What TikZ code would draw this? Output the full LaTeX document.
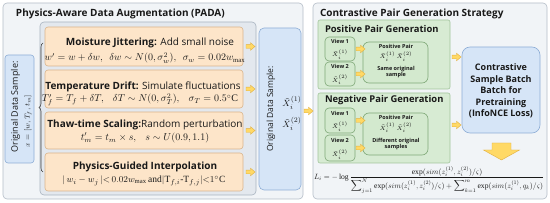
\documentclass[tikz,border=0pt]{standalone}
\usepackage{amsmath}
\usepackage{fontspec}
\setmainfont{Liberation Serif}
\setsansfont{Open Sans}
\usetikzlibrary{decorations.pathreplacing,calc}
\definecolor{pnlfill}{HTML}{F1F4F7}
\definecolor{pnldraw}{HTML}{B5BEC8}
\definecolor{inrfill}{HTML}{E3E8EE}
\definecolor{inrdraw}{HTML}{A9B4C0}
\definecolor{orgfill}{HTML}{FDE5C9}
\definecolor{orgdraw}{HTML}{D9B48C}
\definecolor{blufill}{HTML}{D6E5F7}
\definecolor{bludraw}{HTML}{8DADD5}
\definecolor{grnfill}{HTML}{D7EBD3}
\definecolor{grndraw}{HTML}{A2C69C}
\definecolor{gbxfill}{HTML}{D3E9CE}
\definecolor{gbxdraw}{HTML}{7FA878}
\definecolor{arrfill}{HTML}{FFD966}
\definecolor{arrdraw}{HTML}{E2B040}
\tikzset{
  every node/.style={inner sep=0pt, outer sep=0pt},
  sz/.style 2 args={minimum width=#1pt, minimum height=#2pt},
  panel/.style={draw=pnldraw, fill=pnlfill, rounded corners=4pt, line width=0.6pt},
  innerp/.style={draw=inrdraw, fill=inrfill, rounded corners=4pt, line width=0.6pt},
  obox/.style={draw=orgdraw, fill=orgfill, rounded corners=3pt, line width=0.6pt},
  bluebox/.style={draw=bludraw, fill=blufill, rounded corners=3pt, line width=0.6pt},
  gpanel/.style={draw=grndraw, fill=grnfill, rounded corners=2pt, line width=0.6pt},
  gbox/.style={draw=gbxdraw, fill=gbxfill, rounded corners=4pt, line width=0.6pt},
  titletxt/.style={font=\sffamily\bfseries\fontsize{10}{11}\selectfont, text=black!90},
  gtitletxt/.style={font=\sffamily\bfseries\fontsize{9.4}{10}\selectfont, text=black!90},
  txt/.style={font=\sffamily\fontsize{10}{11}\selectfont, text=black!90},
  mth/.style={font=\fontsize{10}{11}\selectfont, text=black!90},
  smallb/.style={font=\sffamily\bfseries\fontsize{5.5}{6.5}\selectfont, text=black!90, align=center},
  smallm/.style={font=\fontsize{6.5}{7}\selectfont, text=black!90},
  rottxt/.style={font=\sffamily\fontsize{9}{10}\selectfont, text=black!90, rotate=90},
  yarr/.style={draw=arrdraw, fill=arrfill, line width=0.4pt, line join=miter},
  bracestyle/.style={decorate, decoration={brace, amplitude=4pt}, draw=black!75, line width=0.6pt},
}
\newcommand\smallarrow[1]{\draw[yarr] #1 ++(0,-1.8) -- ++(4.5,0) -- ++(0,-2) -- ++(4.5,3.8) -- ++(-4.5,3.8) -- ++(0,-2) -- ++(-4.5,0) -- cycle;}
\begin{document}
\begin{tikzpicture}[x=1pt, y=-1pt]
\useasboundingbox[fill=white] (0,0) rectangle (550,203);
% left panel
\node[panel, sz={300}{196}] (padapanel) at (153,101) {};
\node[titletxt, anchor=west] (padatitle) at (16,14) {Physics-Aware Data Augmentation (PADA)};
% right panel
\node[panel, sz={234}{196}] (cpgpanel) at (430,101) {};
\node[titletxt, anchor=west] (cpgtitle) at (320,14) {Contrastive Pair Generation Strategy};
% inner augmentation panel
\node[innerp, sz={216}{173}] (augpanel) at (148,108.5) {};
% original sample sidebar
\node[bluebox, sz={29}{108}] (orig) at (19.5,109) {};
\node[rottxt] (origtxt) at (15.5,107) {Original Data Sample:};
\node[mth, rotate=90, font=\fontsize{7.5}{8}\selectfont] (origx) at (28,121) {$x=[w,T_f,t_m]$};
\coordinate (brtop) at (43,43);
\coordinate (brbot) at (43,172);
\draw[bracestyle] (brbot) -- (brtop);
% orange boxes
\node[obox, sz={198}{39}] (o1) at (144,46.5) {};
\node[txt] (o1a) at (150,43) {\textbf{Moisture Jittering:} Add small noise};
\node[mth, font=\fontsize{9.6}{10}\selectfont] (o1b) at (145,58) {$w'=w+\delta w,\ \ \delta w\sim N(0,\sigma_w^2),\ \ \sigma_w=0.02w_{\max}$};
\node[obox, sz={198}{38}] (o2) at (144,89) {};
\node[txt] (o2a) at (143,87) {\textbf{Temperature Drift:} Simulate fluctuations};
\node[mth] (o2b) at (140,100) {$T_f'=T_f+\delta T,\ \ \ \delta T\sim N(0,\sigma_T^2),\ \ \ \sigma_T=0.5^{\circ}\mathrm{C}$};
\node[obox, sz={198}{37}] (o3) at (144,130.5) {};
\node[txt] (o3a) at (145,125) {\textbf{Thaw-time Scaling:}Random perturbation};
\node[mth] (o3b) at (145,138) {$t_m'=t_m\times s,\ \ \ s\sim U(0.9,1.1)$};
\node[obox, sz={198}{38}] (o4) at (144,172) {};
\node[txt] (o4a) at (145,167) {\textbf{Physics-Guided Interpolation}};
\node[mth, font=\fontsize{9.5}{10}\selectfont] (o4b) at (144,181) {$|\,w_i-w_j\,|{<}\,0.02w_{\max}\,\mathrm{and}|\mathrm{T}_{f,i}\text{-}\mathrm{T}_{f,j}|{<}1^{\circ}\mathrm{C}$};
% center blue box
\node[bluebox, sz={42}{162}, rounded corners=5pt] (cb) at (280,109) {};
\node[rottxt, font=\sffamily\fontsize{8.5}{10}\selectfont] (cbtxt) at (271,109) {Original Data Sample:};
\node[mth, font=\fontsize{9.5}{10}\selectfont] (cbx1) at (292,103) {$\tilde{X}_i^{(1)}$};
\node[mth, font=\fontsize{9.5}{10}\selectfont] (cbx2) at (292,124) {$\tilde{X}_i^{(2)}$};
\smallarrow{($(o1.east)+(3,0)$)}
\smallarrow{($(o2.east)+(3,0)$)}
\smallarrow{($(o3.east)+(3,0)$)}
\smallarrow{($(o4.east)+(3,0)$)}
\smallarrow{($(cb.east)+(3,2)$)}
% positive pair generation
\node[gpanel, sz={132}{69}] (gpos) at (384,54.5) {};
\node[gtitletxt, anchor=west] (gpostitle) at (325,29) {Positive Pair Generation};
\node[gbox, sz={30}{24}] (pv1) at (340,49) {};
\node[smallb] (pv1a) at (340,41.5) {View 1};
\node[smallm] (pv1b) at (340,54.5) {$\tilde{X}_i^{(1)}$};
\node[gbox, sz={30}{24}] (pv2) at (340,74) {};
\node[smallb] (pv2a) at (340,66.5) {View 2};
\node[smallm] (pv2b) at (340,80) {$\tilde{X}_i^{(2)}$};
\node[gbox, sz={65}{41}, rounded corners=6pt] (pp) at (395.5,62.5) {};
\node[smallb] (ppa) at (396,46) {Positive Pair};
\node[smallm] (ppb) at (396,56.5) {$\tilde{X}_i^{(1)}\,\tilde{X}_i^{(2)}$};
\node[smallb] (ppc) at (396,72) {Same original\\sample};
\smallarrow{($(pv1.east)+(1,0)$)}
\smallarrow{($(pv2.east)+(1,0)$)}
% negative pair generation
\node[gpanel, sz={132}{70}] (gneg) at (384,128) {};
\node[gtitletxt, anchor=west] (gnegtitle) at (325,100) {Negative Pair Generation};
\node[gbox, sz={30}{25}] (nv1) at (340,120.5) {};
\node[smallb] (nv1a) at (340,113) {View 1};
\node[smallm] (nv1b) at (340,126.5) {$\tilde{X}_i^{(1)}$};
\node[gbox, sz={30}{26}] (nv2) at (340,148) {};
\node[smallb] (nv2a) at (340,140.5) {View 2};
\node[smallm] (nv2b) at (340,154.5) {$\tilde{X}_i^{(2)}$};
\node[gbox, sz={65}{42}, rounded corners=6pt] (np) at (395.5,134) {};
\node[smallb] (npa) at (396,117.5) {Positive Pair};
\node[smallm] (npb) at (396,128) {$\tilde{X}_i^{(1)}\,\tilde{X}_i^{(2)}$};
\node[smallb] (npc) at (396,144) {Different original\\samples};
\smallarrow{($(nv1.east)+(1,0)$)}
\smallarrow{($(nv2.east)+(1,0)$)}
% right box
\node[bluebox, sz={78}{86}, rounded corners=8pt] (batch) at (501,90) {};
\node[titletxt, align=center, font=\sffamily\bfseries\fontsize{9}{11.5}\selectfont] (batchtxt) at (501,91) {Contrastive\\Sample Batch\\Batch for\\Pretraining\\(InfoNCE Loss)};
\smallarrow{($(gpos.east)+(2,2.5)$)}
\smallarrow{($(gneg.east)+(2,-3)$)}
% big down arrow
\coordinate (bigtop) at ($(batch.south)+(-9,10)$);
\draw[yarr] (bigtop) -- ++(19,0) -- ++(0,7) -- ++(8.5,0) -- ++(-18,10) -- ++(-18,-10) -- ++(8.5,0) -- cycle;
% formula
\node[mth, anchor=west] (loss) at (314,180) {\resizebox{230pt}{!}{$L_i=-\log\dfrac{\exp(sim(z_i^{(1)},z_i^{(2)})/\varsigma)}{\displaystyle\sum\nolimits_{j=1}^{N}\exp(sim(z_i^{(1)},z_i^{(2)})/\varsigma)+\sum\nolimits_{k=1}^{m}\exp(sim(z_i^{(1)},q_k)/\varsigma)}$}};
\end{tikzpicture}
\end{document}
